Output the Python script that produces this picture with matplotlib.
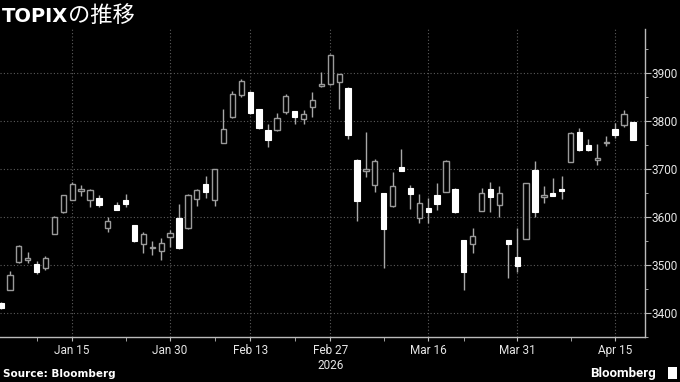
import matplotlib
matplotlib.use('Agg')
import matplotlib.pyplot as plt
from matplotlib.patches import Rectangle
import numpy as np

# daily TOPIX candles (trading days only)
dates = ['2025-12-30',
         '2026-01-05', '2026-01-06', '2026-01-07', '2026-01-08', '2026-01-09',
         '2026-01-13', '2026-01-14', '2026-01-15', '2026-01-16', '2026-01-19',
         '2026-01-20', '2026-01-21', '2026-01-22', '2026-01-23', '2026-01-26',
         '2026-01-27', '2026-01-28', '2026-01-29', '2026-01-30', '2026-02-02',
         '2026-02-03', '2026-02-04', '2026-02-05', '2026-02-06', '2026-02-09',
         '2026-02-10', '2026-02-12', '2026-02-13', '2026-02-16', '2026-02-17',
         '2026-02-18', '2026-02-19', '2026-02-20', '2026-02-24', '2026-02-25',
         '2026-02-26', '2026-02-27', '2026-03-02', '2026-03-03', '2026-03-04',
         '2026-03-05', '2026-03-06', '2026-03-09', '2026-03-10', '2026-03-11',
         '2026-03-12', '2026-03-13', '2026-03-16', '2026-03-17', '2026-03-18',
         '2026-03-19', '2026-03-23', '2026-03-24', '2026-03-25', '2026-03-26',
         '2026-03-27', '2026-03-30', '2026-03-31', '2026-04-01', '2026-04-02',
         '2026-04-03', '2026-04-06', '2026-04-07', '2026-04-08', '2026-04-09',
         '2026-04-10', '2026-04-13', '2026-04-14', '2026-04-15', '2026-04-16',
         '2026-04-17']

opens = [3420,
         3448, 3505, 3510, 3501, 3494, 3564, 3610, 3634, 3654, 3635,
         3639, 3576, 3624, 3634, 3582, 3544, 3534, 3528, 3557, 3597,
         3576, 3636, 3668, 3634, 3754, 3807, 3853, 3860, 3824, 3780,
         3781, 3817, 3819, 3804, 3828, 3871, 3876, 3881, 3867, 3718,
         3694, 3666, 3649, 3622, 3703, 3660, 3597, 3617, 3646, 3651,
         3657, 3551, 3543, 3612, 3658, 3624, 3551, 3516, 3554, 3697,
         3640, 3650, 3658, 3714, 3776, 3749, 3718, 3753, 3783, 3790,
         3797]
highs = [3423,
         3486, 3540, 3526, 3508, 3518, 3601, 3646, 3673, 3666, 3657,
         3644, 3599, 3630, 3648, 3583, 3568, 3549, 3555, 3573, 3627,
         3648, 3658, 3685, 3700, 3824, 3862, 3886, 3862, 3825, 3792,
         3816, 3855, 3820, 3822, 3860, 3901, 3938, 3896, 3870, 3720,
         3776, 3720, 3650, 3692, 3740, 3665, 3648, 3638, 3670, 3717,
         3660, 3551, 3576, 3660, 3673, 3664, 3551, 3576, 3670, 3716,
         3663, 3681, 3684, 3777, 3785, 3761, 3751, 3768, 3794, 3822,
         3798]
lows = [3407,
        3447, 3504, 3503, 3480, 3489, 3563, 3607, 3634, 3642, 3621,
        3619, 3569, 3613, 3621, 3547, 3525, 3521, 3509, 3536, 3533,
        3574, 3622, 3638, 3622, 3754, 3805, 3850, 3813, 3782, 3745,
        3779, 3814, 3793, 3792, 3807, 3870, 3875, 3824, 3762, 3590,
        3682, 3651, 3492, 3619, 3694, 3615, 3586, 3586, 3614, 3651,
        3608, 3447, 3525, 3612, 3610, 3599, 3473, 3484, 3554, 3600,
        3629, 3643, 3636, 3714, 3737, 3736, 3708, 3747, 3763, 3787,
        3759]
closes = [3409,
          3479, 3538, 3513, 3484, 3514, 3599, 3644, 3668, 3657, 3655,
          3624, 3590, 3614, 3627, 3550, 3564, 3537, 3545, 3566, 3535,
          3646, 3655, 3651, 3699, 3783, 3855, 3883, 3816, 3785, 3759,
          3805, 3852, 3807, 3814, 3842, 3876, 3937, 3896, 3770, 3633,
          3700, 3716, 3575, 3664, 3696, 3648, 3629, 3610, 3626, 3716,
          3609, 3485, 3559, 3650, 3641, 3649, 3542, 3497, 3670, 3610,
          3644, 3643, 3653, 3775, 3739, 3738, 3722, 3755, 3769, 3814,
          3759]

label_dates = ['2026-01-15', '2026-01-30', '2026-02-13', '2026-02-27',
               '2026-03-16', '2026-03-31', '2026-04-15']
label_text = ['Jan 15', 'Jan 30', 'Feb 13', 'Feb 27\n2026',
              'Mar 16', 'Mar 31', 'Apr 15']
minor_dates = ['2026-01-08', '2026-01-23', '2026-02-06', '2026-02-20',
               '2026-03-09', '2026-03-23', '2026-04-08']
y_ticks = [3400, 3500, 3600, 3700, 3800, 3900]

plt.rcParams['font.family'] = ['Roboto', 'DejaVu Sans']

fig = plt.figure(figsize=(6.8, 3.82), dpi=100, facecolor='black')
ax = fig.add_axes([0.0, 0.1186, 0.9485, 0.8047], facecolor='black')

x = np.arange(len(dates))
o = np.array(opens, dtype=float)
c = np.array(closes, dtype=float)
up = c >= o

# wicks first, bodies on top
ax.vlines(x, lows, highs, color='#a8a8a8', lw=1, zorder=2)
body_lo = np.minimum(o, c)
body_h = np.maximum(np.abs(c - o), 1.5)
ax.bar(x[up], body_h[up], bottom=body_lo[up], width=0.6,
       facecolor='black', edgecolor='#9a9a9a', lw=1, zorder=3)
ax.bar(x[~up], body_h[~up], bottom=body_lo[~up], width=0.6,
       facecolor='white', edgecolor='white', lw=0.8, zorder=3)

ax.set_xlim(-0.11, 72.36)
ax.set_ylim(3356.7, 3990)

pos = [dates.index(d) for d in label_dates]
ax.set_xticks(pos)
ax.set_xticklabels(label_text, linespacing=1.25)
ax.set_xticks([dates.index(d) for d in minor_dates], minor=True)

ax.yaxis.tick_right()
ax.set_yticks(y_ticks)
ax.set_yticks([v + 50 for v in [3300] + y_ticks], minor=True)

ax.tick_params(axis='both', which='both', colors='#bbbbbb',
               labelcolor='#e6e6e6', labelsize=8.5, direction='out')
ax.tick_params(axis='x', which='major', length=3, pad=2)
ax.tick_params(axis='x', which='minor', length=3)
ax.tick_params(axis='y', which='major', length=4, pad=1)
ax.tick_params(axis='y', which='minor', length=2.5)

ax.grid(True, which='major', color='#5c5c5c', ls=(0, (1, 2)), lw=0.8)
ax.set_axisbelow(True)

for s in ['top', 'left']:
    ax.spines[s].set_visible(False)
for s in ['right', 'bottom']:
    ax.spines[s].set_color('#bbbbbb')
    ax.spines[s].set_linewidth(1)

# title: bold latin part, then lighter Japanese part
t1 = fig.text(0.003, 0.942, 'TOPIX', color='white', fontsize=14,
              fontweight='bold', family='DejaVu Sans', va='baseline')
fig.canvas.draw()
bb = t1.get_window_extent()
fig.text(bb.x1 / fig.bbox.width, 0.942, 'の推移', color='white', fontsize=16,
         family=['Noto Sans CJK JP', 'DejaVu Sans'], va='baseline')

fig.text(0.005, 0.012, 'Source: Bloomberg', color='white', fontsize=7.5,
         fontweight='bold', family='DejaVu Sans', va='baseline')
fig.text(0.964, 0.012, 'Bloomberg', color='white', fontsize=9.5,
         fontweight='bold', ha='right', va='baseline')
fig.patches.append(Rectangle((668 / 680, 1 - 379 / 382), 9 / 680, 12 / 382,
                             transform=fig.transFigure, facecolor='white',
                             edgecolor='none'))

fig.savefig('out.png', dpi=100, facecolor='black')
